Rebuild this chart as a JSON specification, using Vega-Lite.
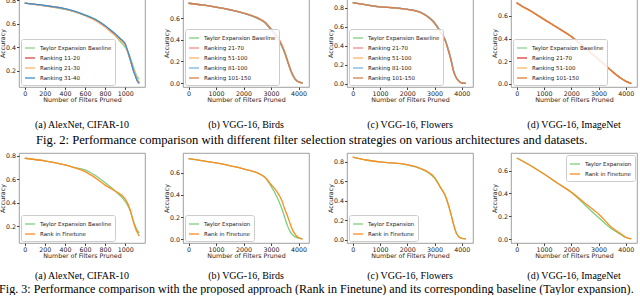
{
"$schema":"https://vega.github.io/schema/vega-lite/v6.json",
"padding":{"left":-1,"top":-4,"right":0,"bottom":0},
"bounds":"flush",
"spacing":154,
"resolve":{"scale":{"x":"independent","y":"independent","color":"independent"},"legend":{"color":"independent"},"axis":{"x":"independent","y":"independent"}},
"datasets":{
"a2":[
{"s":"Taylor Expansion Baseline","x":0,"y":0.775},{"s":"Taylor Expansion Baseline","x":200,"y":0.752},{"s":"Taylor Expansion Baseline","x":400,"y":0.722},{"s":"Taylor Expansion Baseline","x":500,"y":0.70},{"s":"Taylor Expansion Baseline","x":600,"y":0.675},{"s":"Taylor Expansion Baseline","x":700,"y":0.64},{"s":"Taylor Expansion Baseline","x":800,"y":0.585},{"s":"Taylor Expansion Baseline","x":850,"y":0.55},{"s":"Taylor Expansion Baseline","x":900,"y":0.50},{"s":"Taylor Expansion Baseline","x":950,"y":0.45},{"s":"Taylor Expansion Baseline","x":1000,"y":0.40},{"s":"Taylor Expansion Baseline","x":1030,"y":0.36},{"s":"Taylor Expansion Baseline","x":1060,"y":0.29},{"s":"Taylor Expansion Baseline","x":1080,"y":0.24},{"s":"Taylor Expansion Baseline","x":1100,"y":0.19},{"s":"Taylor Expansion Baseline","x":1120,"y":0.15},{"s":"Taylor Expansion Baseline","x":1140,"y":0.13},
{"s":"Ranking 11-20","x":0,"y":0.775},{"s":"Ranking 11-20","x":200,"y":0.754},{"s":"Ranking 11-20","x":400,"y":0.727},{"s":"Ranking 11-20","x":500,"y":0.703},{"s":"Ranking 11-20","x":600,"y":0.670},{"s":"Ranking 11-20","x":700,"y":0.632},{"s":"Ranking 11-20","x":800,"y":0.575},{"s":"Ranking 11-20","x":850,"y":0.54},{"s":"Ranking 11-20","x":900,"y":0.505},{"s":"Ranking 11-20","x":950,"y":0.468},{"s":"Ranking 11-20","x":1000,"y":0.425},{"s":"Ranking 11-20","x":1030,"y":0.35},{"s":"Ranking 11-20","x":1060,"y":0.265},{"s":"Ranking 11-20","x":1080,"y":0.21},{"s":"Ranking 11-20","x":1100,"y":0.165},{"s":"Ranking 11-20","x":1120,"y":0.12},{"s":"Ranking 11-20","x":1140,"y":0.095},
{"s":"Ranking 21-30","x":0,"y":0.775},{"s":"Ranking 21-30","x":200,"y":0.752},{"s":"Ranking 21-30","x":400,"y":0.724},{"s":"Ranking 21-30","x":500,"y":0.70},{"s":"Ranking 21-30","x":600,"y":0.668},{"s":"Ranking 21-30","x":700,"y":0.628},{"s":"Ranking 21-30","x":800,"y":0.572},{"s":"Ranking 21-30","x":850,"y":0.535},{"s":"Ranking 21-30","x":900,"y":0.50},{"s":"Ranking 21-30","x":950,"y":0.46},{"s":"Ranking 21-30","x":1000,"y":0.415},{"s":"Ranking 21-30","x":1030,"y":0.345},{"s":"Ranking 21-30","x":1060,"y":0.27},{"s":"Ranking 21-30","x":1080,"y":0.22},{"s":"Ranking 21-30","x":1100,"y":0.175},{"s":"Ranking 21-30","x":1120,"y":0.13},{"s":"Ranking 21-30","x":1140,"y":0.105},
{"s":"Ranking 31-40","x":0,"y":0.775},{"s":"Ranking 31-40","x":200,"y":0.755},{"s":"Ranking 31-40","x":400,"y":0.728},{"s":"Ranking 31-40","x":500,"y":0.705},{"s":"Ranking 31-40","x":600,"y":0.674},{"s":"Ranking 31-40","x":700,"y":0.638},{"s":"Ranking 31-40","x":800,"y":0.583},{"s":"Ranking 31-40","x":850,"y":0.55},{"s":"Ranking 31-40","x":900,"y":0.515},{"s":"Ranking 31-40","x":950,"y":0.475},{"s":"Ranking 31-40","x":1000,"y":0.43},{"s":"Ranking 31-40","x":1030,"y":0.355},{"s":"Ranking 31-40","x":1060,"y":0.27},{"s":"Ranking 31-40","x":1080,"y":0.205},{"s":"Ranking 31-40","x":1100,"y":0.16},{"s":"Ranking 31-40","x":1120,"y":0.115},{"s":"Ranking 31-40","x":1140,"y":0.095}
],
"b2":[
{"s":"Taylor Expansion Baseline","x":0,"y":0.736},{"s":"Taylor Expansion Baseline","x":500,"y":0.72},{"s":"Taylor Expansion Baseline","x":1000,"y":0.70},{"s":"Taylor Expansion Baseline","x":1500,"y":0.675},{"s":"Taylor Expansion Baseline","x":2000,"y":0.644},{"s":"Taylor Expansion Baseline","x":2500,"y":0.598},{"s":"Taylor Expansion Baseline","x":2800,"y":0.55},{"s":"Taylor Expansion Baseline","x":3000,"y":0.49},{"s":"Taylor Expansion Baseline","x":3200,"y":0.425},{"s":"Taylor Expansion Baseline","x":3400,"y":0.335},{"s":"Taylor Expansion Baseline","x":3500,"y":0.275},{"s":"Taylor Expansion Baseline","x":3600,"y":0.20},{"s":"Taylor Expansion Baseline","x":3700,"y":0.128},{"s":"Taylor Expansion Baseline","x":3800,"y":0.07},{"s":"Taylor Expansion Baseline","x":3900,"y":0.03},{"s":"Taylor Expansion Baseline","x":4000,"y":0.012},{"s":"Taylor Expansion Baseline","x":4150,"y":0.002},
{"s":"Ranking 21-70","x":0,"y":0.736},{"s":"Ranking 21-70","x":500,"y":0.721},{"s":"Ranking 21-70","x":1000,"y":0.70},{"s":"Ranking 21-70","x":1500,"y":0.677},{"s":"Ranking 21-70","x":2000,"y":0.646},{"s":"Ranking 21-70","x":2500,"y":0.603},{"s":"Ranking 21-70","x":2800,"y":0.56},{"s":"Ranking 21-70","x":3000,"y":0.50},{"s":"Ranking 21-70","x":3200,"y":0.44},{"s":"Ranking 21-70","x":3400,"y":0.35},{"s":"Ranking 21-70","x":3500,"y":0.285},{"s":"Ranking 21-70","x":3600,"y":0.21},{"s":"Ranking 21-70","x":3700,"y":0.133},{"s":"Ranking 21-70","x":3800,"y":0.072},{"s":"Ranking 21-70","x":3900,"y":0.032},{"s":"Ranking 21-70","x":4000,"y":0.013},{"s":"Ranking 21-70","x":4150,"y":0.002},
{"s":"Ranking 51-100","x":0,"y":0.736},{"s":"Ranking 51-100","x":500,"y":0.719},{"s":"Ranking 51-100","x":1000,"y":0.699},{"s":"Ranking 51-100","x":1500,"y":0.675},{"s":"Ranking 51-100","x":2000,"y":0.645},{"s":"Ranking 51-100","x":2500,"y":0.60},{"s":"Ranking 51-100","x":2800,"y":0.556},{"s":"Ranking 51-100","x":3000,"y":0.495},{"s":"Ranking 51-100","x":3200,"y":0.435},{"s":"Ranking 51-100","x":3400,"y":0.345},{"s":"Ranking 51-100","x":3500,"y":0.282},{"s":"Ranking 51-100","x":3600,"y":0.207},{"s":"Ranking 51-100","x":3700,"y":0.13},{"s":"Ranking 51-100","x":3800,"y":0.07},{"s":"Ranking 51-100","x":3900,"y":0.03},{"s":"Ranking 51-100","x":4000,"y":0.012},{"s":"Ranking 51-100","x":4150,"y":0.002},
{"s":"Ranking 81-100","x":0,"y":0.736},{"s":"Ranking 81-100","x":500,"y":0.72},{"s":"Ranking 81-100","x":1000,"y":0.701},{"s":"Ranking 81-100","x":1500,"y":0.676},{"s":"Ranking 81-100","x":2000,"y":0.643},{"s":"Ranking 81-100","x":2500,"y":0.597},{"s":"Ranking 81-100","x":2800,"y":0.552},{"s":"Ranking 81-100","x":3000,"y":0.49},{"s":"Ranking 81-100","x":3200,"y":0.428},{"s":"Ranking 81-100","x":3400,"y":0.338},{"s":"Ranking 81-100","x":3500,"y":0.276},{"s":"Ranking 81-100","x":3600,"y":0.202},{"s":"Ranking 81-100","x":3700,"y":0.127},{"s":"Ranking 81-100","x":3800,"y":0.068},{"s":"Ranking 81-100","x":3900,"y":0.029},{"s":"Ranking 81-100","x":4000,"y":0.011},{"s":"Ranking 81-100","x":4150,"y":0.002},
{"s":"Ranking 101-150","x":0,"y":0.736},{"s":"Ranking 101-150","x":500,"y":0.72},{"s":"Ranking 101-150","x":1000,"y":0.70},{"s":"Ranking 101-150","x":1500,"y":0.676},{"s":"Ranking 101-150","x":2000,"y":0.646},{"s":"Ranking 101-150","x":2500,"y":0.601},{"s":"Ranking 101-150","x":2800,"y":0.557},{"s":"Ranking 101-150","x":3000,"y":0.497},{"s":"Ranking 101-150","x":3200,"y":0.436},{"s":"Ranking 101-150","x":3400,"y":0.344},{"s":"Ranking 101-150","x":3500,"y":0.281},{"s":"Ranking 101-150","x":3600,"y":0.205},{"s":"Ranking 101-150","x":3700,"y":0.129},{"s":"Ranking 101-150","x":3800,"y":0.069},{"s":"Ranking 101-150","x":3900,"y":0.03},{"s":"Ranking 101-150","x":4000,"y":0.012},{"s":"Ranking 101-150","x":4150,"y":0.002}
],
"c2":[
{"s":"Taylor Expansion Baseline","x":0,"y":0.853},{"s":"Taylor Expansion Baseline","x":500,"y":0.83},{"s":"Taylor Expansion Baseline","x":1000,"y":0.81},{"s":"Taylor Expansion Baseline","x":1500,"y":0.80},{"s":"Taylor Expansion Baseline","x":2000,"y":0.783},{"s":"Taylor Expansion Baseline","x":2500,"y":0.748},{"s":"Taylor Expansion Baseline","x":2800,"y":0.692},{"s":"Taylor Expansion Baseline","x":3000,"y":0.635},{"s":"Taylor Expansion Baseline","x":3200,"y":0.55},{"s":"Taylor Expansion Baseline","x":3400,"y":0.45},{"s":"Taylor Expansion Baseline","x":3500,"y":0.365},{"s":"Taylor Expansion Baseline","x":3600,"y":0.265},{"s":"Taylor Expansion Baseline","x":3700,"y":0.14},{"s":"Taylor Expansion Baseline","x":3800,"y":0.065},{"s":"Taylor Expansion Baseline","x":3900,"y":0.028},{"s":"Taylor Expansion Baseline","x":4000,"y":0.012},{"s":"Taylor Expansion Baseline","x":4150,"y":0.006},
{"s":"Ranking 21-70","x":0,"y":0.853},{"s":"Ranking 21-70","x":500,"y":0.831},{"s":"Ranking 21-70","x":1000,"y":0.811},{"s":"Ranking 21-70","x":1500,"y":0.80},{"s":"Ranking 21-70","x":2000,"y":0.782},{"s":"Ranking 21-70","x":2500,"y":0.75},{"s":"Ranking 21-70","x":2800,"y":0.697},{"s":"Ranking 21-70","x":3000,"y":0.64},{"s":"Ranking 21-70","x":3200,"y":0.56},{"s":"Ranking 21-70","x":3400,"y":0.455},{"s":"Ranking 21-70","x":3500,"y":0.36},{"s":"Ranking 21-70","x":3600,"y":0.255},{"s":"Ranking 21-70","x":3700,"y":0.132},{"s":"Ranking 21-70","x":3800,"y":0.062},{"s":"Ranking 21-70","x":3900,"y":0.027},{"s":"Ranking 21-70","x":4000,"y":0.01},{"s":"Ranking 21-70","x":4150,"y":0.005},
{"s":"Ranking 51-100","x":0,"y":0.853},{"s":"Ranking 51-100","x":500,"y":0.83},{"s":"Ranking 51-100","x":1000,"y":0.81},{"s":"Ranking 51-100","x":1500,"y":0.799},{"s":"Ranking 51-100","x":2000,"y":0.784},{"s":"Ranking 51-100","x":2500,"y":0.752},{"s":"Ranking 51-100","x":2800,"y":0.698},{"s":"Ranking 51-100","x":3000,"y":0.642},{"s":"Ranking 51-100","x":3200,"y":0.557},{"s":"Ranking 51-100","x":3400,"y":0.448},{"s":"Ranking 51-100","x":3500,"y":0.355},{"s":"Ranking 51-100","x":3600,"y":0.25},{"s":"Ranking 51-100","x":3700,"y":0.13},{"s":"Ranking 51-100","x":3800,"y":0.06},{"s":"Ranking 51-100","x":3900,"y":0.026},{"s":"Ranking 51-100","x":4000,"y":0.01},{"s":"Ranking 51-100","x":4150,"y":0.005},
{"s":"Ranking 81-100","x":0,"y":0.853},{"s":"Ranking 81-100","x":500,"y":0.83},{"s":"Ranking 81-100","x":1000,"y":0.809},{"s":"Ranking 81-100","x":1500,"y":0.80},{"s":"Ranking 81-100","x":2000,"y":0.785},{"s":"Ranking 81-100","x":2500,"y":0.753},{"s":"Ranking 81-100","x":2800,"y":0.70},{"s":"Ranking 81-100","x":3000,"y":0.645},{"s":"Ranking 81-100","x":3200,"y":0.562},{"s":"Ranking 81-100","x":3400,"y":0.46},{"s":"Ranking 81-100","x":3500,"y":0.37},{"s":"Ranking 81-100","x":3600,"y":0.262},{"s":"Ranking 81-100","x":3700,"y":0.135},{"s":"Ranking 81-100","x":3800,"y":0.064},{"s":"Ranking 81-100","x":3900,"y":0.028},{"s":"Ranking 81-100","x":4000,"y":0.01},{"s":"Ranking 81-100","x":4150,"y":0.005},
{"s":"Ranking 101-150","x":0,"y":0.853},{"s":"Ranking 101-150","x":500,"y":0.83},{"s":"Ranking 101-150","x":1000,"y":0.81},{"s":"Ranking 101-150","x":1500,"y":0.80},{"s":"Ranking 101-150","x":2000,"y":0.783},{"s":"Ranking 101-150","x":2500,"y":0.749},{"s":"Ranking 101-150","x":2800,"y":0.694},{"s":"Ranking 101-150","x":3000,"y":0.638},{"s":"Ranking 101-150","x":3200,"y":0.553},{"s":"Ranking 101-150","x":3400,"y":0.447},{"s":"Ranking 101-150","x":3500,"y":0.357},{"s":"Ranking 101-150","x":3600,"y":0.252},{"s":"Ranking 101-150","x":3700,"y":0.131},{"s":"Ranking 101-150","x":3800,"y":0.062},{"s":"Ranking 101-150","x":3900,"y":0.027},{"s":"Ranking 101-150","x":4000,"y":0.01},{"s":"Ranking 101-150","x":4150,"y":0.005}
],
"d2":[
{"s":"Taylor Expansion Baseline","x":0,"y":0.718},{"s":"Taylor Expansion Baseline","x":100,"y":0.70},{"s":"Taylor Expansion Baseline","x":500,"y":0.645},{"s":"Taylor Expansion Baseline","x":1000,"y":0.57},{"s":"Taylor Expansion Baseline","x":1500,"y":0.496},{"s":"Taylor Expansion Baseline","x":2000,"y":0.42},{"s":"Taylor Expansion Baseline","x":2500,"y":0.32},{"s":"Taylor Expansion Baseline","x":3000,"y":0.216},{"s":"Taylor Expansion Baseline","x":3500,"y":0.112},{"s":"Taylor Expansion Baseline","x":3800,"y":0.053},{"s":"Taylor Expansion Baseline","x":4000,"y":0.024},{"s":"Taylor Expansion Baseline","x":4200,"y":0.003},
{"s":"Ranking 21-70","x":0,"y":0.718},{"s":"Ranking 21-70","x":100,"y":0.701},{"s":"Ranking 21-70","x":500,"y":0.646},{"s":"Ranking 21-70","x":1000,"y":0.571},{"s":"Ranking 21-70","x":1500,"y":0.495},{"s":"Ranking 21-70","x":2000,"y":0.418},{"s":"Ranking 21-70","x":2500,"y":0.322},{"s":"Ranking 21-70","x":3000,"y":0.218},{"s":"Ranking 21-70","x":3500,"y":0.113},{"s":"Ranking 21-70","x":3800,"y":0.054},{"s":"Ranking 21-70","x":4000,"y":0.025},{"s":"Ranking 21-70","x":4200,"y":0.003},
{"s":"Ranking 51-100","x":0,"y":0.718},{"s":"Ranking 51-100","x":100,"y":0.70},{"s":"Ranking 51-100","x":500,"y":0.645},{"s":"Ranking 51-100","x":1000,"y":0.569},{"s":"Ranking 51-100","x":1500,"y":0.497},{"s":"Ranking 51-100","x":2000,"y":0.42},{"s":"Ranking 51-100","x":2500,"y":0.321},{"s":"Ranking 51-100","x":3000,"y":0.217},{"s":"Ranking 51-100","x":3500,"y":0.111},{"s":"Ranking 51-100","x":3800,"y":0.052},{"s":"Ranking 51-100","x":4000,"y":0.024},{"s":"Ranking 51-100","x":4200,"y":0.003},
{"s":"Ranking 101-150","x":0,"y":0.718},{"s":"Ranking 101-150","x":100,"y":0.70},{"s":"Ranking 101-150","x":500,"y":0.646},{"s":"Ranking 101-150","x":1000,"y":0.57},{"s":"Ranking 101-150","x":1500,"y":0.496},{"s":"Ranking 101-150","x":2000,"y":0.419},{"s":"Ranking 101-150","x":2500,"y":0.32},{"s":"Ranking 101-150","x":3000,"y":0.215},{"s":"Ranking 101-150","x":3500,"y":0.11},{"s":"Ranking 101-150","x":3800,"y":0.052},{"s":"Ranking 101-150","x":4000,"y":0.023},{"s":"Ranking 101-150","x":4200,"y":0.003}
],
"a3":[
{"s":"Taylor Expansion Baseline","x":0,"y":0.78},{"s":"Taylor Expansion Baseline","x":200,"y":0.757},{"s":"Taylor Expansion Baseline","x":400,"y":0.723},{"s":"Taylor Expansion Baseline","x":500,"y":0.70},{"s":"Taylor Expansion Baseline","x":600,"y":0.68},{"s":"Taylor Expansion Baseline","x":700,"y":0.634},{"s":"Taylor Expansion Baseline","x":800,"y":0.57},{"s":"Taylor Expansion Baseline","x":900,"y":0.50},{"s":"Taylor Expansion Baseline","x":1000,"y":0.41},{"s":"Taylor Expansion Baseline","x":1050,"y":0.33},{"s":"Taylor Expansion Baseline","x":1080,"y":0.245},{"s":"Taylor Expansion Baseline","x":1100,"y":0.20},{"s":"Taylor Expansion Baseline","x":1120,"y":0.165},{"s":"Taylor Expansion Baseline","x":1140,"y":0.14},
{"s":"Rank in Finetune","x":0,"y":0.78},{"s":"Rank in Finetune","x":200,"y":0.757},{"s":"Rank in Finetune","x":400,"y":0.723},{"s":"Rank in Finetune","x":500,"y":0.697},{"s":"Rank in Finetune","x":600,"y":0.666},{"s":"Rank in Finetune","x":700,"y":0.614},{"s":"Rank in Finetune","x":800,"y":0.55},{"s":"Rank in Finetune","x":900,"y":0.50},{"s":"Rank in Finetune","x":1000,"y":0.43},{"s":"Rank in Finetune","x":1050,"y":0.34},{"s":"Rank in Finetune","x":1080,"y":0.24},{"s":"Rank in Finetune","x":1100,"y":0.185},{"s":"Rank in Finetune","x":1120,"y":0.145},{"s":"Rank in Finetune","x":1140,"y":0.114}
],
"b3":[
{"s":"Taylor Expansion","x":0,"y":0.73},{"s":"Taylor Expansion","x":1000,"y":0.69},{"s":"Taylor Expansion","x":2000,"y":0.636},{"s":"Taylor Expansion","x":2500,"y":0.60},{"s":"Taylor Expansion","x":2800,"y":0.553},{"s":"Taylor Expansion","x":3000,"y":0.48},{"s":"Taylor Expansion","x":3200,"y":0.39},{"s":"Taylor Expansion","x":3400,"y":0.27},{"s":"Taylor Expansion","x":3500,"y":0.195},{"s":"Taylor Expansion","x":3600,"y":0.12},{"s":"Taylor Expansion","x":3700,"y":0.066},{"s":"Taylor Expansion","x":3800,"y":0.036},{"s":"Taylor Expansion","x":3900,"y":0.018},{"s":"Taylor Expansion","x":4000,"y":0.01},{"s":"Taylor Expansion","x":4150,"y":0.002},
{"s":"Rank in Finetune","x":0,"y":0.73},{"s":"Rank in Finetune","x":1000,"y":0.69},{"s":"Rank in Finetune","x":2000,"y":0.636},{"s":"Rank in Finetune","x":2500,"y":0.60},{"s":"Rank in Finetune","x":2800,"y":0.556},{"s":"Rank in Finetune","x":3000,"y":0.495},{"s":"Rank in Finetune","x":3200,"y":0.435},{"s":"Rank in Finetune","x":3400,"y":0.345},{"s":"Rank in Finetune","x":3500,"y":0.27},{"s":"Rank in Finetune","x":3600,"y":0.21},{"s":"Rank in Finetune","x":3700,"y":0.135},{"s":"Rank in Finetune","x":3800,"y":0.075},{"s":"Rank in Finetune","x":3900,"y":0.036},{"s":"Rank in Finetune","x":4000,"y":0.014},{"s":"Rank in Finetune","x":4150,"y":0.003}
],
"c3":[
{"s":"Taylor Expansion","x":0,"y":0.85},{"s":"Taylor Expansion","x":500,"y":0.82},{"s":"Taylor Expansion","x":1000,"y":0.80},{"s":"Taylor Expansion","x":2000,"y":0.77},{"s":"Taylor Expansion","x":2500,"y":0.73},{"s":"Taylor Expansion","x":2800,"y":0.685},{"s":"Taylor Expansion","x":3000,"y":0.635},{"s":"Taylor Expansion","x":3200,"y":0.55},{"s":"Taylor Expansion","x":3400,"y":0.445},{"s":"Taylor Expansion","x":3600,"y":0.27},{"s":"Taylor Expansion","x":3700,"y":0.16},{"s":"Taylor Expansion","x":3800,"y":0.07},{"s":"Taylor Expansion","x":3900,"y":0.03},{"s":"Taylor Expansion","x":4000,"y":0.015},{"s":"Taylor Expansion","x":4150,"y":0.01},
{"s":"Rank in Finetune","x":0,"y":0.85},{"s":"Rank in Finetune","x":500,"y":0.82},{"s":"Rank in Finetune","x":1000,"y":0.80},{"s":"Rank in Finetune","x":2000,"y":0.772},{"s":"Rank in Finetune","x":2500,"y":0.732},{"s":"Rank in Finetune","x":2800,"y":0.69},{"s":"Rank in Finetune","x":3000,"y":0.64},{"s":"Rank in Finetune","x":3200,"y":0.545},{"s":"Rank in Finetune","x":3400,"y":0.45},{"s":"Rank in Finetune","x":3600,"y":0.265},{"s":"Rank in Finetune","x":3700,"y":0.155},{"s":"Rank in Finetune","x":3800,"y":0.068},{"s":"Rank in Finetune","x":3900,"y":0.03},{"s":"Rank in Finetune","x":4000,"y":0.015},{"s":"Rank in Finetune","x":4150,"y":0.01}
],
"d3":[
{"s":"Taylor Expansion","x":0,"y":0.71},{"s":"Taylor Expansion","x":500,"y":0.645},{"s":"Taylor Expansion","x":1000,"y":0.57},{"s":"Taylor Expansion","x":1500,"y":0.49},{"s":"Taylor Expansion","x":2000,"y":0.41},{"s":"Taylor Expansion","x":2500,"y":0.30},{"s":"Taylor Expansion","x":3000,"y":0.19},{"s":"Taylor Expansion","x":3500,"y":0.088},{"s":"Taylor Expansion","x":3800,"y":0.044},{"s":"Taylor Expansion","x":4000,"y":0.015},{"s":"Taylor Expansion","x":4200,"y":0.003},
{"s":"Rank in Finetune","x":0,"y":0.71},{"s":"Rank in Finetune","x":500,"y":0.645},{"s":"Rank in Finetune","x":1000,"y":0.57},{"s":"Rank in Finetune","x":1500,"y":0.49},{"s":"Rank in Finetune","x":2000,"y":0.412},{"s":"Rank in Finetune","x":2500,"y":0.315},{"s":"Rank in Finetune","x":3000,"y":0.22},{"s":"Rank in Finetune","x":3500,"y":0.10},{"s":"Rank in Finetune","x":3800,"y":0.05},{"s":"Rank in Finetune","x":4000,"y":0.017},{"s":"Rank in Finetune","x":4200,"y":0.003}
]
},
"vconcat":[
{
"hconcat":[
{"width":126,"height":88,"data":{"name":"a2"},"mark":{"type":"line","interpolate":"monotone","clip":true},
"encoding":{"x":{"field":"x","type":"quantitative","scale":{"domain":[-57,1197],"nice":false,"zero":false},"axis":{"values":[0,200,400,600,800,1000],"format":"d","title":"Number of Filters Pruned"}},
"y":{"field":"y","type":"quantitative","scale":{"domain":[0.064,0.81],"nice":false,"zero":false},"axis":{"values":[0.2,0.4,0.6,0.8],"format":".1f","title":"Accuracy"}},
"color":{"field":"s","type":"nominal","scale":{"domain":["Taylor Expansion Baseline","Ranking 11-20","Ranking 21-30","Ranking 31-40"],"range":["#8fd18f","#e04444","#ffb466","#3d8fd0"]},"legend":{"title":null,"orient":"bottom-left"}}},
"title":{"text":"(a)  AlexNet, CIFAR-10","orient":"bottom","offset":17}},
{"width":126,"height":88,"data":{"name":"b2"},"mark":{"type":"line","interpolate":"monotone","clip":true},
"encoding":{"x":{"field":"x","type":"quantitative","scale":{"domain":[-200,4380],"nice":false,"zero":false},"axis":{"values":[0,1000,2000,3000,4000],"format":"d","title":"Number of Filters Pruned"}},
"y":{"field":"y","type":"quantitative","scale":{"domain":[-0.035,0.775],"nice":false,"zero":false},"axis":{"values":[0,0.2,0.4,0.6],"format":".1f","title":"Accuracy"}},
"color":{"field":"s","type":"nominal","scale":{"domain":["Taylor Expansion Baseline","Ranking 21-70","Ranking 51-100","Ranking 81-100","Ranking 101-150"],"range":["#7ccf7c","#f08a8a","#ffb466","#7ab3e0","#d9804a"]},"legend":{"title":null,"orient":"bottom-left"}}},
"title":{"text":"(b)  VGG-16, Birds","orient":"bottom","offset":17}},
{"width":126,"height":88,"data":{"name":"c2"},"mark":{"type":"line","interpolate":"monotone","clip":true},
"encoding":{"x":{"field":"x","type":"quantitative","scale":{"domain":[-210,4410],"nice":false,"zero":false},"axis":{"values":[0,1000,2000,3000,4000],"format":"d","title":"Number of Filters Pruned"}},
"y":{"field":"y","type":"quantitative","scale":{"domain":[-0.032,0.892],"nice":false,"zero":false},"axis":{"values":[0,0.2,0.4,0.6,0.8],"format":".1f","title":"Accuracy"}},
"color":{"field":"s","type":"nominal","scale":{"domain":["Taylor Expansion Baseline","Ranking 21-70","Ranking 51-100","Ranking 81-100","Ranking 101-150"],"range":["#7ccf7c","#f08a8a","#ffb466","#7ab3e0","#d9804a"]},"legend":{"title":null,"orient":"bottom-left"}}},
"title":{"text":"(c)  VGG-16, Flowers","orient":"bottom","offset":17}},
{"width":126,"height":88,"data":{"name":"d2"},"mark":{"type":"line","interpolate":"monotone","clip":true},
"encoding":{"x":{"field":"x","type":"quantitative","scale":{"domain":[-210,4410],"nice":false,"zero":false},"axis":{"values":[0,1000,2000,3000,4000],"format":"d","title":"Number of Filters Pruned"}},
"y":{"field":"y","type":"quantitative","scale":{"domain":[-0.027,0.75],"nice":false,"zero":false},"axis":{"values":[0,0.2,0.4,0.6],"format":".1f","title":"Accuracy"}},
"color":{"field":"s","type":"nominal","scale":{"domain":["Taylor Expansion Baseline","Ranking 21-70","Ranking 51-100","Ranking 101-150"],"range":["#8fd18f","#e03a3a","#ffb466","#e07b39"]},"legend":{"title":null,"orient":"bottom-left"}}},
"title":{"text":"(d)  VGG-16, ImageNet","orient":"bottom","offset":17}}
],
"spacing":38,
"bounds":"flush",
"resolve":{"scale":{"x":"independent","y":"independent","color":"independent"},"legend":{"color":"independent"},"axis":{"x":"independent","y":"independent"}},
"title":{"text":"Fig. 2: Performance comparison with different filter selection strategies on various architectures and datasets.","orient":"bottom","anchor":"start","fontSize":12.6,"offset":3,"dx":37}
},
{
"hconcat":[
{"width":126,"height":90,"data":{"name":"a3"},"mark":{"type":"line","interpolate":"monotone","clip":true},
"encoding":{"x":{"field":"x","type":"quantitative","scale":{"domain":[-57,1197],"nice":false,"zero":false},"axis":{"values":[0,200,400,600,800,1000],"format":"d","title":"Number of Filters Pruned"}},
"y":{"field":"y","type":"quantitative","scale":{"domain":[0.055,0.825],"nice":false,"zero":false},"axis":{"values":[0.2,0.4,0.6,0.8],"format":".1f","title":"Accuracy"}},
"color":{"field":"s","type":"nominal","scale":{"domain":["Taylor Expansion Baseline","Rank in Finetune"],"range":["#7ccf7c","#ff8c1f"]},"legend":{"title":null,"orient":"bottom-left"}}},
"title":{"text":"(a)  AlexNet, CIFAR-10","orient":"bottom","offset":12}},
{"width":126,"height":90,"data":{"name":"b3"},"mark":{"type":"line","interpolate":"monotone","clip":true},
"encoding":{"x":{"field":"x","type":"quantitative","scale":{"domain":[-200,4380],"nice":false,"zero":false},"axis":{"values":[0,1000,2000,3000,4000],"format":"d","title":"Number of Filters Pruned"}},
"y":{"field":"y","type":"quantitative","scale":{"domain":[-0.035,0.78],"nice":false,"zero":false},"axis":{"values":[0,0.2,0.4,0.6],"format":".1f","title":"Accuracy"}},
"color":{"field":"s","type":"nominal","scale":{"domain":["Taylor Expansion","Rank in Finetune"],"range":["#7ccf7c","#ff8c1f"]},"legend":{"title":null,"orient":"bottom-left"}}},
"title":{"text":"(b)  VGG-16, Birds","orient":"bottom","offset":12}},
{"width":126,"height":90,"data":{"name":"c3"},"mark":{"type":"line","interpolate":"monotone","clip":true},
"encoding":{"x":{"field":"x","type":"quantitative","scale":{"domain":[-210,4410],"nice":false,"zero":false},"axis":{"values":[0,1000,2000,3000,4000],"format":"d","title":"Number of Filters Pruned"}},
"y":{"field":"y","type":"quantitative","scale":{"domain":[-0.032,0.892],"nice":false,"zero":false},"axis":{"values":[0,0.2,0.4,0.6,0.8],"format":".1f","title":"Accuracy"}},
"color":{"field":"s","type":"nominal","scale":{"domain":["Taylor Expansion","Rank in Finetune"],"range":["#7ccf7c","#ff8c1f"]},"legend":{"title":null,"orient":"bottom-left"}}},
"title":{"text":"(c)  VGG-16, Flowers","orient":"bottom","offset":12}},
{"width":126,"height":90,"data":{"name":"d3"},"mark":{"type":"line","interpolate":"monotone","clip":true},
"encoding":{"x":{"field":"x","type":"quantitative","scale":{"domain":[-210,4410],"nice":false,"zero":false},"axis":{"values":[0,1000,2000,3000,4000],"format":"d","title":"Number of Filters Pruned"}},
"y":{"field":"y","type":"quantitative","scale":{"domain":[-0.033,0.754],"nice":false,"zero":false},"axis":{"values":[0,0.2,0.4,0.6],"format":".1f","title":"Accuracy"}},
"color":{"field":"s","type":"nominal","scale":{"domain":["Taylor Expansion","Rank in Finetune"],"range":["#7ccf7c","#ff8c1f"]},"legend":{"title":null,"orient":"top-right"}}},
"title":{"text":"(d)  VGG-16, ImageNet","orient":"bottom","offset":12}}
],
"spacing":38,
"bounds":"flush",
"resolve":{"scale":{"x":"independent","y":"independent","color":"independent"},"legend":{"color":"independent"},"axis":{"x":"independent","y":"independent"}},
"title":{"text":"Fig. 3: Performance comparison with the proposed approach (Rank in Finetune) and its corresponding baseline (Taylor expansion).","orient":"bottom","anchor":"start","fontSize":12.1,"offset":1,"dx":0}
}
],
"config":{
"view":{"stroke":"#888","strokeWidth":0.8},
"axis":{"labelFont":"DejaVu Sans","titleFont":"DejaVu Sans","labelFontSize":6.3,"titleFontSize":6.3,"titleFontWeight":"normal","labelColor":"#222","titleColor":"#222","tickColor":"#444","tickSize":2.5,"labelPadding":1,"titlePadding":0,"domain":false,"grid":false},
"legend":{"labelFont":"DejaVu Sans","labelFontSize":5.5,"labelColor":"#222","symbolType":"stroke","symbolSize":100,"symbolStrokeWidth":1.5,"rowPadding":-4,"padding":3,"strokeColor":"#ccc","fillColor":"rgba(255,255,255,0.85)","cornerRadius":2,"offset":2,"labelOffset":4},
"title":{"font":"Liberation Serif","fontSize":10,"fontWeight":"normal","color":"#000"},
"line":{"strokeWidth":1.3}
}
}
